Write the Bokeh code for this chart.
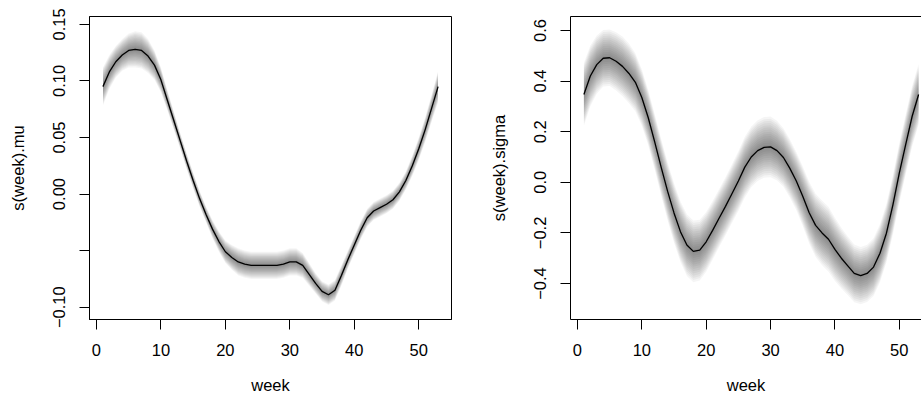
from bokeh.plotting import figure
from bokeh.layouts import row
from bokeh.models import FixedTicker, LinearAxis, Range1d
from bokeh.embed import file_html
from bokeh.resources import INLINE

# ---------------- data ----------------
weeks = list(range(1, 54))

mu_fit = [0.095, 0.108, 0.117, 0.123, 0.127, 0.128, 0.127, 0.122, 0.114, 0.101,
          0.083, 0.065, 0.047, 0.029, 0.012, -0.004, -0.018, -0.031, -0.042, -0.051,
          -0.056, -0.060, -0.062, -0.063, -0.063, -0.063, -0.063, -0.063, -0.062, -0.060,
          -0.060, -0.063, -0.071, -0.079, -0.086, -0.089, -0.085, -0.072, -0.058, -0.045,
          -0.032, -0.021, -0.015, -0.012, -0.009, -0.005, 0.002, 0.012, 0.025, 0.040,
          0.057, 0.076, 0.095]

mu_halfwidth = [0.017, 0.015, 0.014, 0.014, 0.015, 0.016, 0.016, 0.015, 0.013, 0.011,
                0.009, 0.008, 0.007, 0.007, 0.007, 0.007, 0.007, 0.008, 0.009, 0.010,
                0.011, 0.012, 0.012, 0.012, 0.012, 0.012, 0.012, 0.012, 0.012, 0.012,
                0.012, 0.011, 0.010, 0.009, 0.009, 0.009, 0.009, 0.009, 0.008, 0.008,
                0.008, 0.008, 0.008, 0.008, 0.008, 0.008, 0.008, 0.008, 0.009, 0.010,
                0.011, 0.012, 0.014]

sigma_fit = [0.347, 0.420, 0.465, 0.490, 0.492, 0.478, 0.458, 0.430, 0.395, 0.335,
             0.255, 0.160, 0.060, -0.035, -0.121, -0.195, -0.248, -0.273, -0.268, -0.235,
             -0.190, -0.142, -0.095, -0.045, 0.005, 0.060, 0.100, 0.125, 0.138, 0.140,
             0.125, 0.098, 0.055, 0.005, -0.055, -0.120, -0.170, -0.200, -0.225, -0.265,
             -0.300, -0.330, -0.360, -0.369, -0.360, -0.335, -0.280, -0.201, -0.090, 0.036,
             0.150, 0.261, 0.347]

sigma_halfwidth = [0.125, 0.120, 0.115, 0.112, 0.112, 0.115, 0.118, 0.118, 0.115, 0.112,
                   0.110, 0.110, 0.112, 0.115, 0.118, 0.120, 0.122, 0.122, 0.120, 0.118,
                   0.116, 0.115, 0.115, 0.116, 0.118, 0.120, 0.120, 0.120, 0.120, 0.120,
                   0.118, 0.116, 0.115, 0.115, 0.118, 0.122, 0.125, 0.128, 0.128, 0.125,
                   0.120, 0.116, 0.114, 0.113, 0.113, 0.114, 0.115, 0.116, 0.117, 0.118,
                   0.119, 0.120, 0.120]

x_ticks = [0, 10, 20, 30, 40, 50]
x_tick_labels = ["0", "10", "20", "30", "40", "50"]
mu_ticks = [-0.10, -0.05, 0.0, 0.05, 0.10, 0.15]
mu_tick_labels = ["\u22120.10", "", "0.00", "0.05", "0.10", "0.15"]
sigma_ticks = [-0.4, -0.2, 0.0, 0.2, 0.4, 0.6]
sigma_tick_labels = ["\u22120.4", "\u22120.2", "0.0", "0.2", "0.4", "0.6"]

FONT = "Liberation Sans"
FS = "16.5px"
N_LEVELS = 14
LEVEL_ALPHA = 0.038


def style_axes(p, yt, ylabels, ylab):
    xa = p.below[0]
    ya = p.left[0]
    xa.ticker = FixedTicker(ticks=x_ticks)
    xa.major_label_overrides = dict(zip(x_ticks, x_tick_labels))
    ya.ticker = FixedTicker(ticks=yt)
    ya.major_label_overrides = dict(zip(yt, ylabels))
    ya.major_label_orientation = "vertical"
    xa.axis_label = "week"
    ya.axis_label = ylab
    for ax in (xa, ya):
        ax.major_tick_out = 10
        ax.major_tick_in = 0
        ax.minor_tick_out = 0
        ax.minor_tick_in = 0
        ax.major_tick_line_color = "black"
        ax.axis_line_color = "black"
        ax.major_label_text_font = FONT
        ax.major_label_text_font_size = FS
        ax.major_label_text_color = "black"
        ax.axis_label_text_font = FONT
        ax.axis_label_text_font_size = FS
        ax.axis_label_text_font_style = "normal"
        ax.axis_label_text_color = "black"
    xa.major_label_standoff = 14
    xa.axis_label_standoff = 17
    ya.major_label_standoff = 14
    ya.axis_label_standoff = 24
    p.xgrid.visible = False
    p.ygrid.visible = False


def draw(p, fit, hw):
    for k in range(N_LEVELS, 0, -1):
        f = k / N_LEVELS
        lo = [m - f * h for m, h in zip(fit, hw)]
        hi = [m + f * h for m, h in zip(fit, hw)]
        p.varea(x=weeks, y1=lo, y2=hi, fill_color="black", fill_alpha=LEVEL_ALPHA)
    p.line(weeks, fit, line_color="black", line_width=1.3)


p1 = figure(width=480, height=403, x_range=Range1d(-1.08, 55.08),
            y_range=Range1d(-0.1109, 0.157), output_backend="svg",
            toolbar_location=None, min_border_left=89, min_border_right=29,
            min_border_top=16, min_border_bottom=84)
p1.outline_line_color = "black"
p1.outline_line_alpha = 1.0
p1.outline_line_width = 1
draw(p1, mu_fit, mu_halfwidth)
style_axes(p1, mu_ticks, mu_tick_labels, "s(week).mu")

p2 = figure(width=441, height=403, x_range=Range1d(-1.08, 53.45),
            y_range=Range1d(-0.542, 0.655), output_backend="svg",
            toolbar_location=None, min_border_left=90, min_border_right=0,
            min_border_top=16, min_border_bottom=84)
p2.outline_line_color = None
draw(p2, sigma_fit, sigma_halfwidth)
style_axes(p2, sigma_ticks, sigma_tick_labels, "s(week).sigma")
top = LinearAxis(ticker=FixedTicker(ticks=[]), major_tick_out=0, major_tick_in=0,
                 minor_tick_out=0, minor_tick_in=0, major_label_standoff=0,
                 major_label_text_font_size="0px", axis_line_color="black",
                 axis_label=None)
p2.add_layout(top, "above")

for p in (p1, p2):
    p.background_fill_color = "white"
    p.border_fill_color = "white"

layout = row(p1, p2)
open("out.html", "w").write(file_html(layout, INLINE))
